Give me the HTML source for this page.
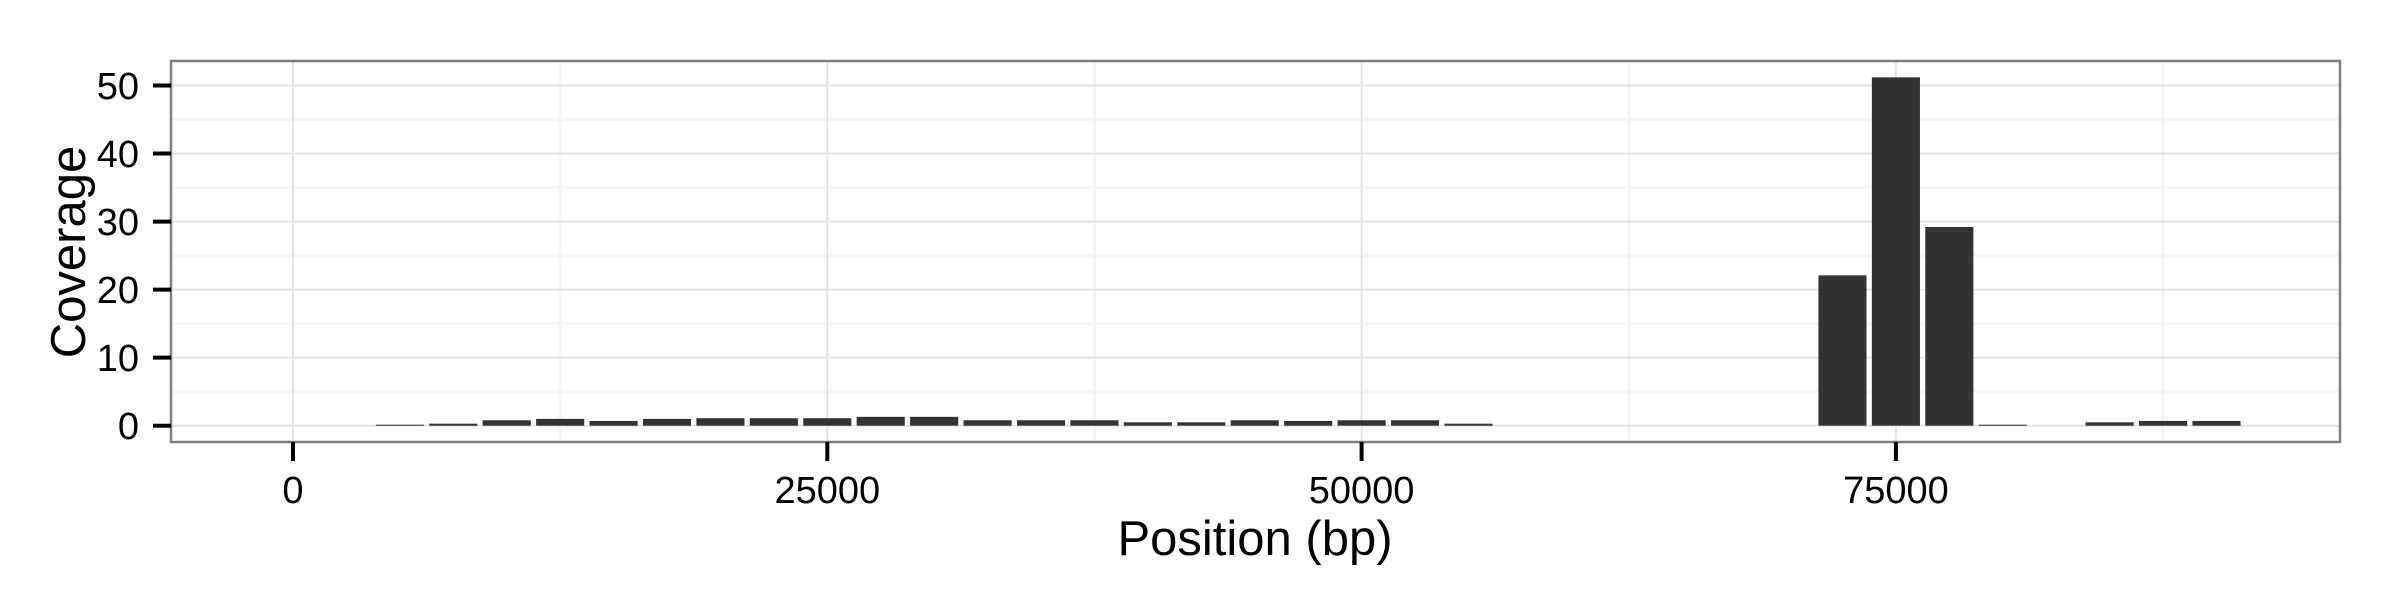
<!DOCTYPE html>
<html><head><meta charset="utf-8"><style>
html,body{margin:0;padding:0;background:#fff;}
svg{display:block;font-family:"Liberation Sans",sans-serif;}
</style></head><body>
<svg id="chart" width="2400" height="600" viewBox="0 0 2400 600" xmlns="http://www.w3.org/2000/svg">
<rect x="0" y="0" width="2400" height="600" fill="#fff"/>
<g id="grid"></g>
<g id="bars"></g>
<rect x="171" y="61" width="2169" height="381" fill="none" stroke="#7f7f7f" stroke-width="2.5"/>
<g id="axes"></g>
<text x="1255" y="555" font-size="49" text-anchor="middle" fill="#000">Position (bp)</text>
<text transform="translate(85,252) rotate(-90)" font-size="49" text-anchor="middle" fill="#000">Coverage</text>
</svg>
<script>
const positions = [5000,7500,10000,12500,15000,17500,20000,22500,25000,27500,30000,32500,35000,37500,40000,42500,45000,47500,50000,52500,55000,72500,75000,77500,80000,85000,87500,90000];
const coverage = [0.1,0.3,0.8,1.0,0.7,1.0,1.1,1.1,1.1,1.3,1.3,0.8,0.8,0.8,0.5,0.5,0.8,0.7,0.8,0.8,0.3,22.1,51.2,29.2,0.1,0.5,0.7,0.7];
const xTicks = [0,25000,50000,75000];
const xMinor = [12500,37500,62500,87500];
const yTicks = [0,10,20,30,40,50];
const yMinor = [5,15,25,35,45];
const binWidth = 2500;

const NS = "http://www.w3.org/2000/svg";
const PL = 171, PR = 2340, PT = 61, PB = 442;
const x0px = 293, xPerUnit = 534.3/25000;
const y0px = 425.7, yPerUnit = 6.804;
function sx(v){ return x0px + v*xPerUnit; }
function sy(v){ return y0px - v*yPerUnit; }
function mk(tag, attrs, parent){
  const el = document.createElementNS(NS, tag);
  for (const k in attrs) el.setAttribute(k, attrs[k]);
  parent.appendChild(el);
  return el;
}
const grid = document.getElementById('grid');
const bars = document.getElementById('bars');
const axes = document.getElementById('axes');

yMinor.forEach(v => {
  const l = mk('line', {x1:PL, x2:PR, y1:sy(v), y2:sy(v), stroke:'#f6f6f6', 'stroke-width':3}, grid);
  
  
});
xMinor.forEach(v => {
  if (sx(v) > PR) return;
  const l = mk('line', {x1:sx(v), x2:sx(v), y1:PT, y2:PB, stroke:'#f6f6f6', 'stroke-width':3}, grid);
  
  
});
yTicks.forEach(v => {
  const l = mk('line', {x1:PL, x2:PR, y1:sy(v), y2:sy(v), stroke:'#e5e5e5', 'stroke-width':2}, grid);
  
  
  const t = mk('line', {x1:PL-18, x2:PL, y1:sy(v), y2:sy(v), stroke:'#000', 'stroke-width':4}, axes);
  
  
  const tx = mk('text', {x:139, y:sy(v)+13.5, 'font-size':38, 'text-anchor':'end', fill:'#000'}, axes);
  tx.textContent = v;
  
  
});
xTicks.forEach(v => {
  const l = mk('line', {x1:sx(v), x2:sx(v), y1:PT, y2:PB, stroke:'#e5e5e5', 'stroke-width':2}, grid);
  
  
  const t = mk('line', {x1:sx(v), x2:sx(v), y1:PB, y2:PB+19, stroke:'#000', 'stroke-width':4}, axes);
  
  
  const tx = mk('text', {x:sx(v), y:503, 'font-size':38, 'text-anchor':'middle', fill:'#000'}, axes);
  tx.textContent = v;
  
  
});
positions.forEach((p, i) => {
  const w = binWidth*0.9*xPerUnit;
  const top = sy(coverage[i]);
  const h = Math.max(y0px - top, 1);
  const r = mk('rect', {x:sx(p)-w/2, y:y0px-h, width:w, height:h, fill:'#333333'}, bars);
  
  
});
</script>
</body></html>
